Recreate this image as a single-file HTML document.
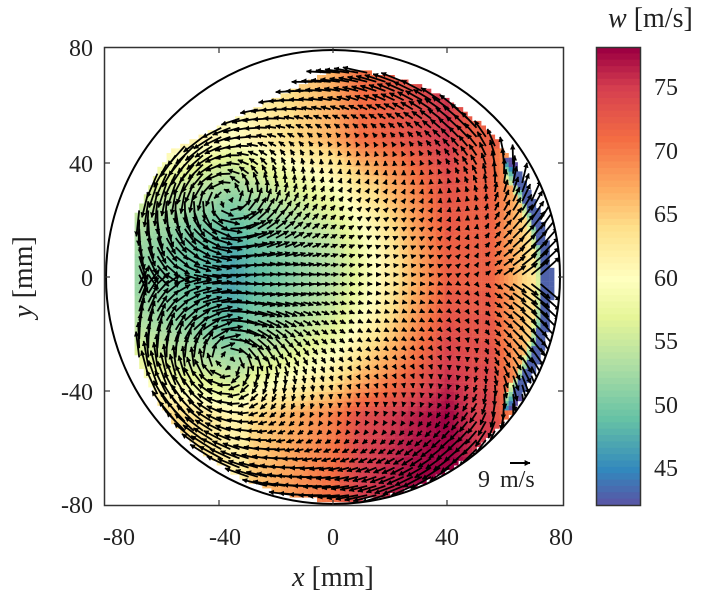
<!DOCTYPE html>
<html><head><meta charset="utf-8">
<style>
body{margin:0;background:#fff;}
svg text{font-family:"Liberation Serif",serif;fill:#222;}
</style></head>
<body>
<svg id="s" width="706" height="600" viewBox="0 0 706 600" xmlns="http://www.w3.org/2000/svg">
<defs>
<clipPath id="cc"><circle cx="333" cy="277" r="227"/></clipPath>
<marker id="ah" viewBox="0 0 10 10" refX="9" refY="5" markerWidth="3" markerHeight="3" orient="auto"><path d="M0,0 L10,5 L0,10 z" fill="#000"/></marker>
</defs>
<g id="field" clip-path="url(#cc)"></g>
<g id="arrows" clip-path="url(#cc)"></g>
<circle cx="333" cy="277" r="227" fill="none" stroke="#000" stroke-width="2"/>
<rect x="104.5" y="47.5" width="459" height="458" fill="none" stroke="#333" stroke-width="1.5"/>
<g stroke="#333" stroke-width="1.2">
<line x1="219" y1="506" x2="219" y2="500"/><line x1="333" y1="506" x2="333" y2="500"/><line x1="447" y1="506" x2="447" y2="500"/>
<line x1="219" y1="47" x2="219" y2="53"/><line x1="333" y1="47" x2="333" y2="53"/><line x1="447" y1="47" x2="447" y2="53"/>
<line x1="104" y1="163" x2="110" y2="163"/><line x1="104" y1="277" x2="110" y2="277"/><line x1="104" y1="391" x2="110" y2="391"/>
<line x1="564" y1="163" x2="558" y2="163"/><line x1="564" y1="277" x2="558" y2="277"/><line x1="564" y1="391" x2="558" y2="391"/>
</g>
<g font-size="24" text-anchor="middle">
<text x="119" y="545">-80</text><text x="225" y="545">-40</text><text x="333" y="545">0</text><text x="447" y="545">40</text><text x="561" y="545">80</text>
</g>
<g font-size="24" text-anchor="end">
<text x="93" y="56">80</text><text x="93" y="172">40</text><text x="93" y="286">0</text><text x="93" y="400">-40</text><text x="93" y="513">-80</text>
</g>
<text x="333" y="586" font-size="28" text-anchor="middle"><tspan font-style="italic">x</tspan> [mm]</text>
<text transform="translate(32,277) rotate(-90)" font-size="28" text-anchor="middle"><tspan font-style="italic">y</tspan> [mm]</text>
<text x="478" y="487" font-size="24">9</text>
<text x="500" y="487" font-size="24">m/s</text>
<line x1="510" y1="463" x2="530" y2="463" stroke="#000" stroke-width="2" marker-end="url(#ah)"/>
<g id="cbar"></g>
<rect x="596.5" y="47.5" width="44" height="458" fill="none" stroke="#333" stroke-width="1.5"/>
<g font-size="24">
<text x="654" y="95">75</text><text x="654" y="159">70</text><text x="654" y="222">65</text><text x="654" y="286">60</text><text x="654" y="349">55</text><text x="654" y="413">50</text><text x="654" y="476">45</text>
</g>
<text x="608" y="27" font-size="28"><tspan font-style="italic">w</tspan> [m/s]</text>
</svg>
<script>
var stops=[[42,[94,79,162]],[45,[50,136,189]],[49,[102,194,165]],[53,[171,221,164]],[57,[230,245,152]],[60,[255,255,191]],[64,[254,224,139]],[67,[253,174,97]],[71,[244,109,67]],[75,[213,62,79]],[78,[158,1,66]]];
function col(w){w=Math.round(w*2)/2;if(w<=42)return "rgb("+stops[0][1]+")";if(w>=78)return "rgb("+stops[10][1]+")";
for(var i=0;i<stops.length-1;i++){var a=stops[i],b=stops[i+1];if(w<=b[0]){var t=(w-a[0])/(b[0]-a[0]);var c=a[1].map(function(v,k){return Math.round(v+(b[1][k]-v)*t)});return "rgb("+c+")";}}}
function px(x){return 333+x*2.85} function py(y){return 277-y*2.87}
function inside(x,y){var dx=x-2,dy=y+3;if(dx*dx+dy*dy>75*75)return false;if(y>72)return false;
 if(y>0&&(y-45)>(x+55)*0.5)return false; if(x<-70)return false; return true;}
var bx=[[-80,52],[-70,52],[-35,47],[0,54],[15,60],[25,65],[40,72],[55,72],[68,64],[80,60]];
function base(x){for(var i=0;i<bx.length-1;i++){if(x<=bx[i+1][0]){var t=(x-bx[i][0])/(bx[i+1][0]-bx[i][0]);return bx[i][1]+t*(bx[i+1][1]-bx[i][1]);}}return 60;}
function W(x,y){var w=base(x);var ay=Math.abs(y);var k=x<10?1:Math.max(0,1-(x-10)/40);
 w+=k*10*Math.min(1.3,(ay/42)*(ay/42));
 if(y>45)w=Math.max(w,63+Math.min(9,(x+10)*0.15));
 if(y<0)w+=4*Math.min(1,-y/70)*(x>-30?1:0.5);
 if(w>78)w=78;
 var r=Math.sqrt((x-2)*(x-2)+(y+3)*(y+3));
 if(x>64&&r>71.5&&y<38&&y>-42)w=43;else if(x>60&&r>69.5&&y<42&&y>-46)w=Math.min(w,58-(r-69.5)*4);
 return w;}
var f=document.getElementById("field"),h="";
for(var x=-76;x<80;x+=1.6)for(var y=-80;y<76;y+=1.6){if(!inside(x+0.8,y+0.8))continue;
 h+='<rect x="'+px(x).toFixed(1)+'" y="'+py(y+1.6).toFixed(1)+'" width="4.8" height="4.8" fill="'+col(W(x+0.8,y+0.8))+'"/>';}
f.innerHTML=h;
var cb="";for(var i=0;i<72;i++){var w=78-i*0.5;cb+='<rect x="597" y="'+(47+i*458/72).toFixed(1)+'" width="44" height="'+(458/72+0.6).toFixed(1)+'" fill="'+col(w)+'"/>';}
document.getElementById("cbar").innerHTML=cb;
function vort(x,y,xc,yc,G,a){var dx=x-xc,dy=y-yc,r2=dx*dx+dy*dy+a*a;return [-G*dy/r2,G*dx/r2];}
var ah="";
for(var x=-68;x<76;x+=3.2)for(var y=-76;y<72;y+=3.2){if(!inside(x,y))continue;
 var v1=vort(x,y,-38,26,140,10),v2=vort(x,y,-38,-28,-140,10);var u=v1[0]+v2[0],v=v1[1]+v2[1];
 var dx=x-2,dy=y+3,r=Math.sqrt(dx*dx+dy*dy),th=Math.atan2(dy,dx);var s=11*Math.pow(r/75,5);
 if(y>=0){u+=-Math.sin(th)*s;v+=Math.cos(th)*s;}else{u+=Math.sin(th)*s;v+=-Math.cos(th)*s;}
 if(x>50){u+=(x-50)*0.4;}
 var L=2.2,x1=px(x),y1=py(y),x2=x1+u*L,y2=y1-v*L;var m=Math.hypot(u,v)*L;if(m>26){x2=x1+(x2-x1)*26/m;y2=y1+(y2-y1)*26/m;}
 ah+='<line x1="'+x1.toFixed(1)+'" y1="'+y1.toFixed(1)+'" x2="'+x2.toFixed(1)+'" y2="'+y2.toFixed(1)+'" stroke="#000" stroke-width="1.8" marker-end="url(#ah)"/>';}
document.getElementById("arrows").innerHTML=ah;
</script>
</body></html>
